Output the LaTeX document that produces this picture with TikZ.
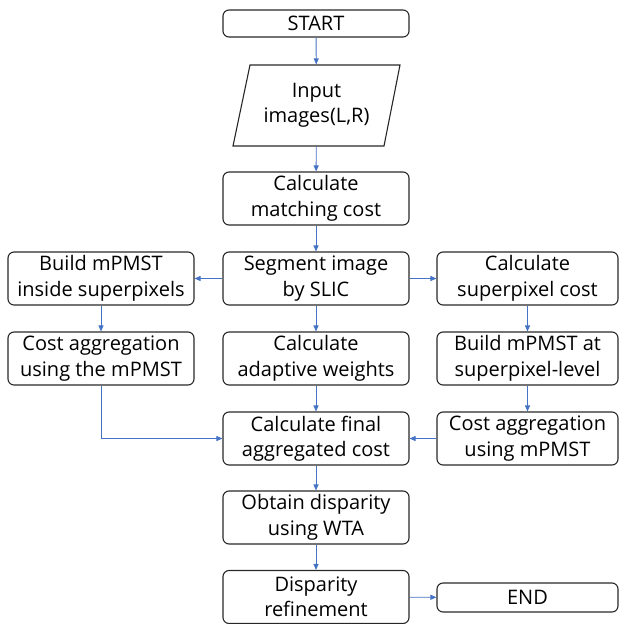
\documentclass[tikz,border=0pt]{standalone}
\usepackage{fontspec}
\setmainfont{Open Sans}
\usetikzlibrary{arrows.meta}
\definecolor{arrowblue}{RGB}{68,114,196}
\definecolor{boxline}{RGB}{40,40,40}
\tikzset{
  box/.style={draw=boxline, line width=1.1pt, rounded corners=6pt, minimum width=186pt, minimum height=53pt, align=center, inner sep=0pt, font=\fontsize{20}{25.5}\selectfont},
  rbox/.style={box, minimum width=181pt},
  flow/.style={draw=arrowblue, line width=0.9pt, -{Triangle[length=6pt,width=5pt]}},
}
\begin{document}
\begin{tikzpicture}[x=1pt,y=-1pt]
\useasboundingbox (0,0) rectangle (620,624);
\node[box, minimum height=27pt] (start) at (316,23.5) {START};
\node[box, draw=none, minimum width=150pt, minimum height=81pt] (in) at (316.5,105.5) {Input\\images(L,R)};
\draw[boxline, line width=1.1pt] (250,65) -- (400,65) -- (384,146) -- (233,146) -- cycle;
\node[box] (mc) at (316,198.5) {Calculate\\matching cost};
\node[box] (seg) at (316,278.5) {Segment image\\by SLIC};
\node[box] (aw) at (316,358.5) {Calculate\\adaptive weights};
\node[box] (fin) at (316,438.5) {Calculate final\\aggregated cost};
\node[box] (wta) at (316,517.5) {Obtain disparity\\using WTA};
\node[box] (ref) at (316,597) {Disparity\\refinement};
\node[box] (bin) at (101,278.5) {Build mPMST\\inside superpixels};
\node[box] (cin) at (101,358.5) {Cost aggregation\\using the mPMST};
\node[rbox] (sc) at (527.5,278.5) {Calculate\\superpixel cost};
\node[rbox] (bsl) at (527.5,358.5) {Build mPMST at\\superpixel-level};
\node[rbox] (csl) at (527.5,438.5) {Cost aggregation\\using mPMST};
\node[rbox, minimum height=29pt] (end) at (527.5,597.5) {END};
\draw[flow] (start) -- (in);
\draw[flow] (in) -- (mc);
\draw[flow] (mc) -- (seg);
\draw[flow] (seg) -- (aw);
\draw[flow] (aw) -- (fin);
\draw[flow] (fin) -- (wta);
\draw[flow] (wta) -- (ref);
\draw[flow] (seg) -- (bin);
\draw[flow] (seg) -- (sc);
\draw[flow] (bin) -- (cin);
\draw[flow] (sc) -- (bsl);
\draw[flow] (bsl) -- (csl);
\draw[flow] (csl) -- (fin);
\draw[flow] (cin.south) |- (fin.west);
\draw[flow] (ref) -- (end);
\end{tikzpicture}
\end{document}
